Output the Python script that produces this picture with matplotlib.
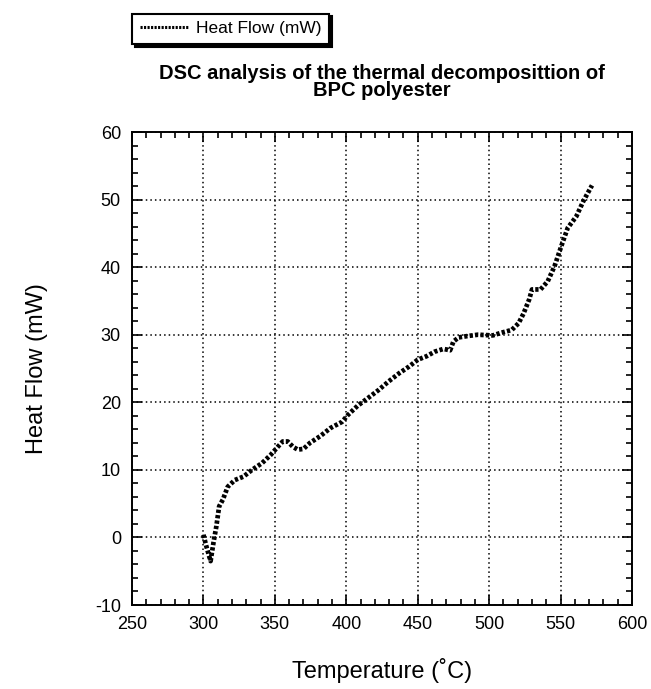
import matplotlib
matplotlib.use("Agg")
import matplotlib.pyplot as plt
from matplotlib.ticker import MultipleLocator

plt.rcParams["font.family"] = ["Liberation Sans", "DejaVu Sans"]
plt.rcParams["axes.unicode_minus"] = False

temperature = [300, 302, 305, 307, 309, 311, 313.6, 317, 322, 328, 334, 341, 347,
               352, 355.5, 359, 362.7, 366, 370, 374.6, 381.8, 389, 397, 401, 408,
               415, 422.5, 429.7, 437, 444, 450, 456, 462, 468, 472.7, 475, 478.7,
               484.7, 492, 502.6, 508.6, 515.8, 520.6, 524, 528, 530, 536, 541,
               545.7, 550.5, 555, 561, 566, 572]
heat_flow = [0.4, -1.3, -3.5, -0.8, 1.6, 4.6, 5.6, 7.5, 8.5, 9.0, 10.0, 11.0, 12.2,
             13.4, 14.2, 14.2, 13.4, 13.0, 13.1, 14.0, 15.0, 16.2, 17.1, 18.1, 19.5,
             20.6, 21.8, 23.1, 24.3, 25.3, 26.3, 26.8, 27.5, 27.9, 27.7, 29.0, 29.6,
             29.8, 30.0, 29.9, 30.3, 30.7, 31.7, 33.1, 35.2, 36.7, 36.7, 37.9,
             40.1, 43.1, 45.8, 47.5, 49.8, 52.1]

fig = plt.figure(figsize=(6.51, 6.89), dpi=100)
ax = fig.add_axes([0.2028, 0.1219, 0.768, 0.6865])

line, = ax.plot(temperature, heat_flow, color="black", lw=3.4,
                ls=(0, (0.7, 0.45)), solid_capstyle="butt", label="Heat Flow (mW)")

ax.set_xlim(250, 600)
ax.set_ylim(-10, 60)
ax.xaxis.set_major_locator(MultipleLocator(50))
ax.xaxis.set_minor_locator(MultipleLocator(10))
ax.yaxis.set_major_locator(MultipleLocator(10))
ax.yaxis.set_minor_locator(MultipleLocator(2))
ax.tick_params(which="both", direction="in", top=True, right=True,
               color="black", width=1.2)
ax.tick_params(which="major", length=7, labelsize=13, pad=8)
ax.tick_params(which="minor", length=4)
ax.grid(True, which="major", color="black", ls=(0, (1, 2)), lw=1.1)
for sp in ax.spines.values():
    sp.set_linewidth(1.4)

ax.set_xlabel("Temperature (˚C)", fontsize=17, labelpad=18)
ax.set_ylabel("Heat Flow (mW)", fontsize=17, labelpad=34)
ax.set_title("DSC analysis of the thermal decomposittion of\nBPC polyester",
             fontsize=14.5, fontweight="bold", linespacing=0.85, pad=26)

leg = fig.legend(handles=[line], loc="upper left", bbox_to_anchor=(0.190, 0.993),
                 frameon=True, shadow={"color": "black", "alpha": 1},
                 fancybox=False, fontsize=12.5, handlelength=2.8,
                 borderpad=0.45, handletextpad=0.4)
leg.get_frame().set_edgecolor("black")
leg.get_frame().set_linewidth(1.5)
leg.get_lines()[0].set_linewidth(2.2)

fig.savefig("out.png", dpi=100)
